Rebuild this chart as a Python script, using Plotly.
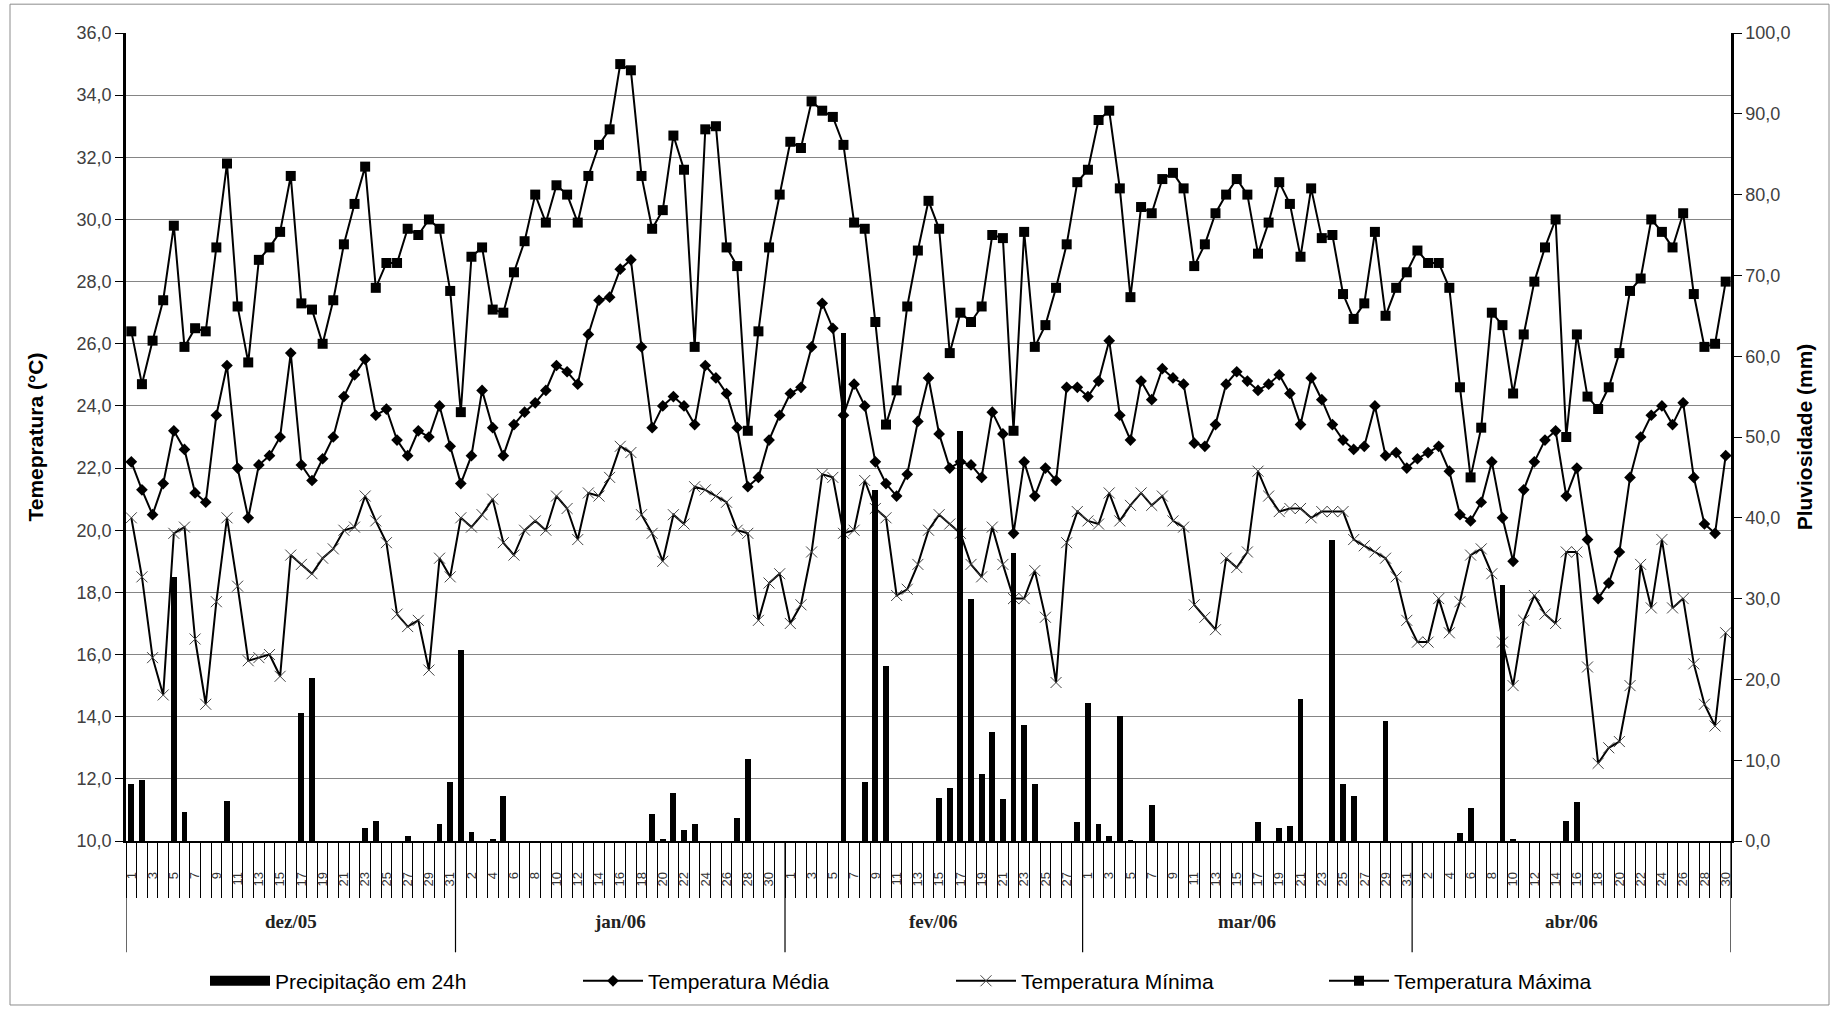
import plotly.graph_objects as go

# ---------------- data ----------------
months = ["dez/05", "jan/06", "fev/06", "mar/06", "abr/06"]
month_days = [31, 31, 28, 31, 30]

# Precipitação em 24h (mm)
prec_dez = [7.0, 7.5, 0, 0, 32.7, 3.6, 0, 0, 0, 5.0, 0, 0, 0, 0, 0, 0, 15.9, 20.2, 0, 0,
            0, 0, 1.6, 2.5, 0, 0, 0.6, 0, 0, 2.1, 7.3]
prec_jan = [23.7, 1.1, 0, 0.3, 5.6, 0, 0, 0, 0, 0, 0, 0, 0, 0, 0, 0, 0, 0, 3.4, 0.3,
            6.0, 1.4, 2.1, 0, 0, 0, 2.8, 10.2, 0, 0, 0]
prec_fev = [0, 0, 0, 0, 0, 62.9, 0, 7.3, 43.5, 21.6, 0, 0, 0, 0, 5.3, 6.5, 50.8, 30.0, 8.3, 13.5,
            5.2, 35.6, 14.3, 7.0, 0, 0, 0, 2.4]
prec_mar = [17.1, 2.1, 0.6, 15.5, 0.1, 0, 4.4, 0, 0, 0, 0, 0, 0, 0, 0, 0, 2.4, 0, 1.6, 1.8,
            17.6, 0, 0, 37.3, 7.1, 5.6, 0, 0, 14.8, 0, 0]
prec_abr = [0, 0, 0, 0, 1.0, 4.1, 0, 0, 31.7, 0.2, 0, 0, 0, 0, 2.5, 4.8, 0, 0, 0, 0,
            0, 0, 0, 0, 0, 0, 0, 0, 0, 0]

# Temperatura Média (°C)
tmed_dez = [22.2, 21.3, 20.5, 21.5, 23.2, 22.6, 21.2, 20.9, 23.7, 25.3, 22.0, 20.4, 22.1, 22.4, 23.0,
            25.7, 22.1, 21.6, 22.3, 23.0, 24.3, 25.0, 25.5, 23.7, 23.9, 22.9, 22.4, 23.2, 23.0, 24.0, 22.7]
tmed_jan = [21.5, 22.4, 24.5, 23.3, 22.4, 23.4, 23.8, 24.1, 24.5, 25.3, 25.1, 24.7, 26.3, 27.4, 27.5,
            28.4, 28.7, 25.9, 23.3, 24.0, 24.3, 24.0, 23.4, 25.3, 24.9, 24.4, 23.3, 21.4, 21.7, 22.9, 23.7]
tmed_fev = [24.4, 24.6, 25.9, 27.3, 26.5, 23.7, 24.7, 24.0, 22.2, 21.5, 21.1, 21.8, 23.5, 24.9, 23.1,
            22.0, 22.2, 22.1, 21.7, 23.8, 23.1, 19.9, 22.2, 21.1, 22.0, 21.6, 24.6, 24.6]
tmed_mar = [24.3, 24.8, 26.1, 23.7, 22.9, 24.8, 24.2, 25.2, 24.9, 24.7, 22.8, 22.7, 23.4, 24.7, 25.1,
            24.8, 24.5, 24.7, 25.0, 24.4, 23.4, 24.9, 24.2, 23.4, 22.9, 22.6, 22.7, 24.0, 22.4, 22.5, 22.0]
tmed_abr = [22.3, 22.5, 22.7, 21.9, 20.5, 20.3, 20.9, 22.2, 20.4, 19.0, 21.3, 22.2, 22.9, 23.2, 21.1,
            22.0, 19.7, 17.8, 18.3, 19.3, 21.7, 23.0, 23.7, 24.0, 23.4, 24.1, 21.7, 20.2, 19.9, 22.4]

# Temperatura Mínima (°C)
tmin_dez = [20.4, 18.5, 15.9, 14.7, 19.9, 20.1, 16.5, 14.4, 17.7, 20.4, 18.2, 15.8, 15.9, 16.0, 15.3,
            19.2, 18.9, 18.6, 19.1, 19.4, 20.0, 20.1, 21.1, 20.3, 19.6, 17.3, 16.9, 17.1, 15.5, 19.1, 18.5]
tmin_jan = [20.4, 20.1, 20.5, 21.0, 19.6, 19.2, 20.0, 20.3, 20.0, 21.1, 20.7, 19.7, 21.2, 21.1, 21.7,
            22.7, 22.5, 20.5, 19.9, 19.0, 20.5, 20.2, 21.4, 21.3, 21.1, 20.9, 20.0, 19.9, 17.1, 18.3, 18.6]
tmin_fev = [17.0, 17.6, 19.3, 21.8, 21.7, 19.9, 20.0, 21.6, 20.7, 20.4, 17.9, 18.1, 18.9, 20.0, 20.5,
            20.2, 19.9, 18.9, 18.5, 20.1, 18.9, 17.8, 17.8, 18.7, 17.2, 15.1, 19.6, 20.6]
tmin_mar = [20.3, 20.2, 21.2, 20.3, 20.8, 21.2, 20.8, 21.1, 20.3, 20.1, 17.6, 17.2, 16.8, 19.1, 18.8,
            19.3, 21.9, 21.1, 20.6, 20.7, 20.7, 20.4, 20.6, 20.6, 20.6, 19.7, 19.5, 19.3, 19.1, 18.5, 17.1]
tmin_abr = [16.4, 16.4, 17.8, 16.7, 17.7, 19.2, 19.4, 18.6, 16.4, 15.0, 17.1, 17.9, 17.3, 17.0, 19.3,
            19.3, 15.6, 12.5, 13.0, 13.2, 15.0, 18.9, 17.5, 19.7, 17.5, 17.8, 15.7, 14.4, 13.7, 16.7]

# Temperatura Máxima (°C)
tmax_dez = [26.4, 24.7, 26.1, 27.4, 29.8, 25.9, 26.5, 26.4, 29.1, 31.8, 27.2, 25.4, 28.7, 29.1, 29.6,
            31.4, 27.3, 27.1, 26.0, 27.4, 29.2, 30.5, 31.7, 27.8, 28.6, 28.6, 29.7, 29.5, 30.0, 29.7, 27.7]
tmax_jan = [23.8, 28.8, 29.1, 27.1, 27.0, 28.3, 29.3, 30.8, 29.9, 31.1, 30.8, 29.9, 31.4, 32.4, 32.9,
            35.0, 34.8, 31.4, 29.7, 30.3, 32.7, 31.6, 25.9, 32.9, 33.0, 29.1, 28.5, 23.2, 26.4, 29.1, 30.8]
tmax_fev = [32.5, 32.3, 33.8, 33.5, 33.3, 32.4, 29.9, 29.7, 26.7, 23.4, 24.5, 27.2, 29.0, 30.6, 29.7,
            25.7, 27.0, 26.7, 27.2, 29.5, 29.4, 23.2, 29.6, 25.9, 26.6, 27.8, 29.2, 31.2]
tmax_mar = [31.6, 33.2, 33.5, 31.0, 27.5, 30.4, 30.2, 31.3, 31.5, 31.0, 28.5, 29.2, 30.2, 30.8, 31.3,
            30.8, 28.9, 29.9, 31.2, 30.5, 28.8, 31.0, 29.4, 29.5, 27.6, 26.8, 27.3, 29.6, 26.9, 27.8, 28.3]
tmax_abr = [29.0, 28.6, 28.6, 27.8, 24.6, 21.7, 23.3, 27.0, 26.6, 24.4, 26.3, 28.0, 29.1, 30.0, 23.0,
            26.3, 24.3, 23.9, 24.6, 25.7, 27.7, 28.1, 30.0, 29.6, 29.1, 30.2, 27.6, 25.9, 26.0, 28.0]

precip = prec_dez + prec_jan + prec_fev + prec_mar + prec_abr
t_med = tmed_dez + tmed_jan + tmed_fev + tmed_mar + tmed_abr
t_min = tmin_dez + tmin_jan + tmin_fev + tmin_mar + tmin_abr
t_max = tmax_dez + tmax_jan + tmax_fev + tmax_mar + tmax_abr

days = [d for n in month_days for d in range(1, n + 1)]
x = list(range(len(days)))
tick_vals = x[::2]
tick_text = [str(days[i]) for i in tick_vals]

# month group boundaries / centres (category units)
bounds = [-0.5]
for n in month_days:
    bounds.append(bounds[-1] + n)
centres = [(bounds[k] + bounds[k + 1]) / 2 for k in range(len(months))]

# ---------------- figure ----------------
W, H = 1834, 1014
ML, MR, MT, MB = 126, 103, 33, 168
PW, PH = W - ML - MR, H - MT - MB

def py(pix):  # page pixel y -> paper y
    return (H - MB - pix) / PH

def px(pix):  # page pixel x -> paper x
    return (pix - ML) / PW

FONT = "Liberation Sans, Arial, sans-serif"

fig = go.Figure()
fig.add_trace(go.Bar(
    x=x, y=precip, yaxis="y2", name="Precipitação em 24h",
    marker=dict(color="black", line=dict(width=0)), width=0.55,
    showlegend=False, legendgroup="prec",
))
# legend entry for the bars (thick black swatch, as in the original)
fig.add_trace(go.Scatter(
    x=[None], y=[None], yaxis="y2", name="Precipitação em 24h", mode="lines",
    line=dict(color="black", width=10), legendgroup="prec", showlegend=True,
))
fig.add_trace(go.Scatter(
    x=x, y=t_med, name="Temperatura Média", mode="lines+markers",
    line=dict(color="black", width=2),
    marker=dict(symbol="diamond", size=9, color="black"),
))
fig.add_trace(go.Scatter(
    x=x, y=t_min, name="Temperatura Mínima", mode="lines+markers",
    line=dict(color="black", width=2),
    marker=dict(symbol="x-thin", size=11, line=dict(width=1, color="#444444"), color="#444444"),
))
fig.add_trace(go.Scatter(
    x=x, y=t_max, name="Temperatura Máxima", mode="lines+markers",
    line=dict(color="black", width=2),
    marker=dict(symbol="square", size=10, color="black"),
))

shapes = []
for b in bounds:
    shapes.append(dict(type="line", xref="x", yref="paper", x0=b, x1=b,
                       y0=0, y1=py(958), line=dict(color="black", width=1.2)))
# chart frame
shapes.append(dict(type="rect", xref="paper", yref="paper",
                   x0=px(10), x1=px(1829), y0=py(1011), y1=py(4),
                   line=dict(color="#8c8c8c", width=1), fillcolor="rgba(0,0,0,0)", layer="below"))

annotations = []
for m, c in zip(months, centres):
    annotations.append(dict(x=c, y=py(927), xref="x", yref="paper", text="<b>%s</b>" % m,
                            showarrow=False, xanchor="center", yanchor="middle",
                            font=dict(family="Liberation Serif, Times New Roman, serif", size=19, color="#222222")))

fig.update_layout(
    width=W, height=H,
    margin=dict(l=ML, r=MR, t=MT, b=MB, pad=0),
    paper_bgcolor="white", plot_bgcolor="white",
    separators=",.",
    showlegend=True,
    bargap=0,
    legend=dict(orientation="h", x=px(205), xanchor="left", y=py(987), yanchor="middle",
                font=dict(family=FONT, size=21, color="black"),
                itemwidth=60, entrywidth=298, entrywidthmode="pixels",
                traceorder="normal", bgcolor="rgba(0,0,0,0)"),
    xaxis=dict(
        range=[-0.5, len(days) - 0.5],
        tickmode="array", tickvals=tick_vals, ticktext=tick_text,
        tickangle=-90, ticks="", ticklabelstandoff=24,
        tickfont=dict(family=FONT, size=13, color="#333333"),
        showgrid=False, zeroline=False,
        showline=True, linecolor="black", linewidth=1.5,
        minor=dict(tickmode="linear", tick0=-0.5, dtick=1, ticks="outside",
                   ticklen=55, tickwidth=1, tickcolor="black", showgrid=False),
    ),
    yaxis=dict(
        range=[10, 36], dtick=2, tick0=10, tickformat=".1f",
        showgrid=True, gridcolor="#858585", gridwidth=1.2,
        zeroline=False, showline=True, linecolor="black", linewidth=2.5,
        ticks="outside", ticklen=8, tickcolor="black", tickwidth=1,
        tickfont=dict(family=FONT, size=18, color="#404040"),
        title=dict(text="<b>Temepratura (°C)</b>", standoff=28,
                   font=dict(family=FONT, size=21, color="black")),
    ),
    yaxis2=dict(
        range=[0, 100], dtick=10, tick0=0, tickformat=".1f",
        overlaying="y", side="right", showgrid=False, zeroline=False,
        showline=True, linecolor="black", linewidth=2.5,
        ticks="outside", ticklen=8, tickcolor="black", tickwidth=1,
        tickfont=dict(family=FONT, size=18, color="#404040"),
        title=dict(text="<b>Pluviosidade (mm)</b>", standoff=8,
                   font=dict(family=FONT, size=21, color="black")),
    ),
    shapes=shapes,
    annotations=annotations,
)

fig.write_html("out.html", config={"displayModeBar": False},
               post_script="document.body.style.margin='0';document.body.style.overflow='hidden';")
